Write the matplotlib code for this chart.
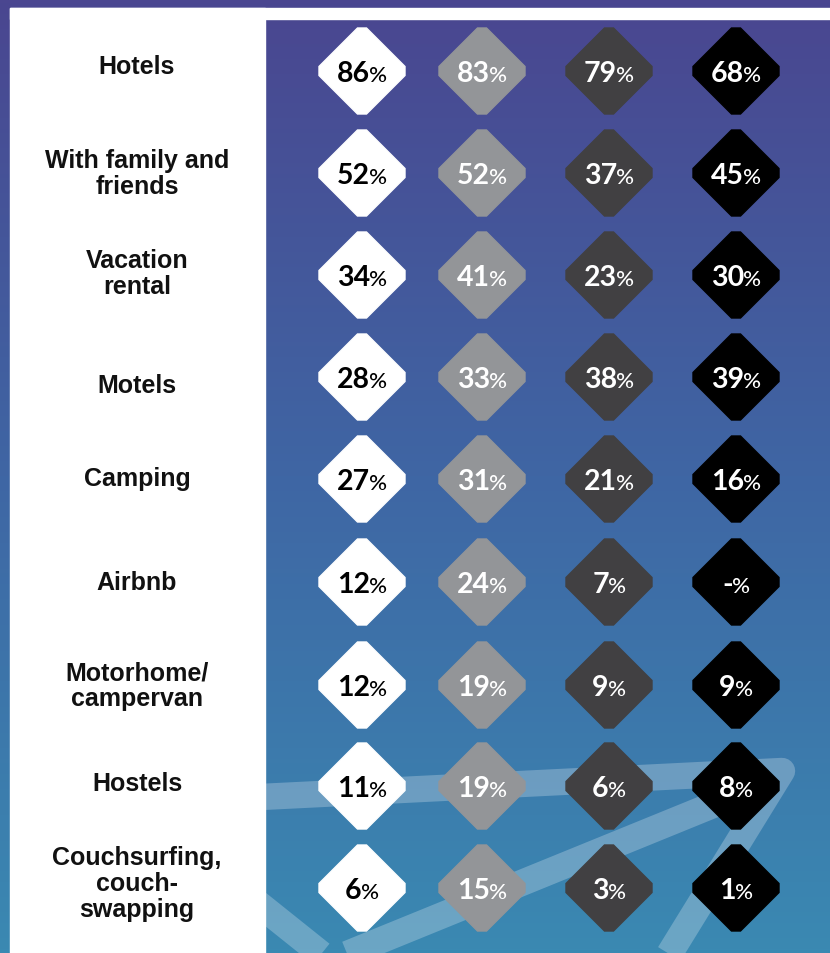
import numpy as np
import matplotlib
matplotlib.use("Agg")
import matplotlib.pyplot as plt
from matplotlib.colors import LinearSegmentedColormap
from matplotlib.patches import Polygon, Rectangle

labels = ["Hotels", "With family and\nfriends", "Vacation\nrental", "Motels", "Camping",
          "Airbnb", "Motorhome/\ncampervan", "Hostels", "Couchsurfing,\ncouch-\nswapping"]
col1 = [86, 52, 34, 28, 27, 12, 12, 11, 6]
col2 = [83, 52, 41, 33, 31, 24, 19, 19, 15]
col3 = [79, 37, 23, 38, 21, 7, 9, 6, 3]
col4 = [68, 45, 30, 39, 16, None, 9, 8, 1]   # no figure for Airbnb

columns = [col1, col2, col3, col4]
fills = ["#ffffff", "#939598", "#414042", "#000000"]
inks = ["#000000", "#ffffff", "#ffffff", "#ffffff"]

W, H = 830, 954
fig = plt.figure(figsize=(W / 100, H / 100), dpi=100)
ax = fig.add_axes([0, 0, 1, 1])
ax.set_xlim(0, W)
ax.set_ylim(H, 0)
ax.axis("off")

# background gradient, purple at the top fading into blue
cmap = LinearSegmentedColormap.from_list("bg", ["#4a4690", "#3f66a4", "#3a89b2"])
grad = np.linspace(0, 1, 256).reshape(-1, 1)
ax.imshow(grad, cmap=cmap, extent=[0, W, H, 0], aspect="auto", zorder=0)

# light swoosh lines behind the table
swoosh_x = [120, 782, 657, np.nan, 190, 330, 740]
swoosh_y = [805, 772, 975, np.nan, 850, 962, 795]
ax.plot(swoosh_x, swoosh_y, color="white", alpha=0.25, lw=19,
        solid_joinstyle="round", solid_capstyle="butt", zorder=1)

# white label column and top strip
ax.add_patch(Rectangle((10, 9), 255, H, color="white", zorder=2))
ax.add_patch(Rectangle((10, 9), W, 11, color="white", zorder=2))

col_x = [362, 482, 609, 736]
row_y = [72, 174, 276, 378, 480, 583, 686, 787, 889]
label_y = [67, 174, 274, 386, 479, 583, 686, 784, 884]

fig.canvas.draw()
renderer = fig.canvas.get_renderer()


def diamond(cx, cy, h=43, c=4.5):
    return [(cx - c, cy - h), (cx + c, cy - h), (cx + h, cy - c), (cx + h, cy + c),
            (cx + c, cy + h), (cx - c, cy + h), (cx - h, cy + c), (cx - h, cy - c)]


def value_label(cx, cy, val, ink):
    num = "-" if val is None else str(val)
    t1 = ax.text(0, cy, num, fontsize=20.5, family="Lato", weight="bold", color=ink,
                 ha="left", va="baseline", zorder=4)
    t2 = ax.text(0, cy, "%", fontsize=16, family="Lato", weight="medium", color=ink,
                 ha="left", va="baseline", zorder=4)
    w1 = t1.get_window_extent(renderer).width
    w2 = t2.get_window_extent(renderer).width
    gap = -1
    x0 = cx - (w1 + gap + w2) / 2
    base = cy + 10
    t1.set_position((x0, base))
    t2.set_position((x0 + w1 + gap, base))


for i, lab in enumerate(labels):
    ax.text(137, label_y[i], lab, fontsize=18, family="Liberation Sans", weight="bold",
            color="#111111", ha="center", va="center", linespacing=1.08, zorder=4)
    for j, col in enumerate(columns):
        cy = row_y[i]
        ax.add_patch(Polygon(diamond(col_x[j], cy), closed=True, color=fills[j], zorder=3))
        value_label(col_x[j], cy, col[i], inks[j])

fig.savefig("out.png", dpi=100)
